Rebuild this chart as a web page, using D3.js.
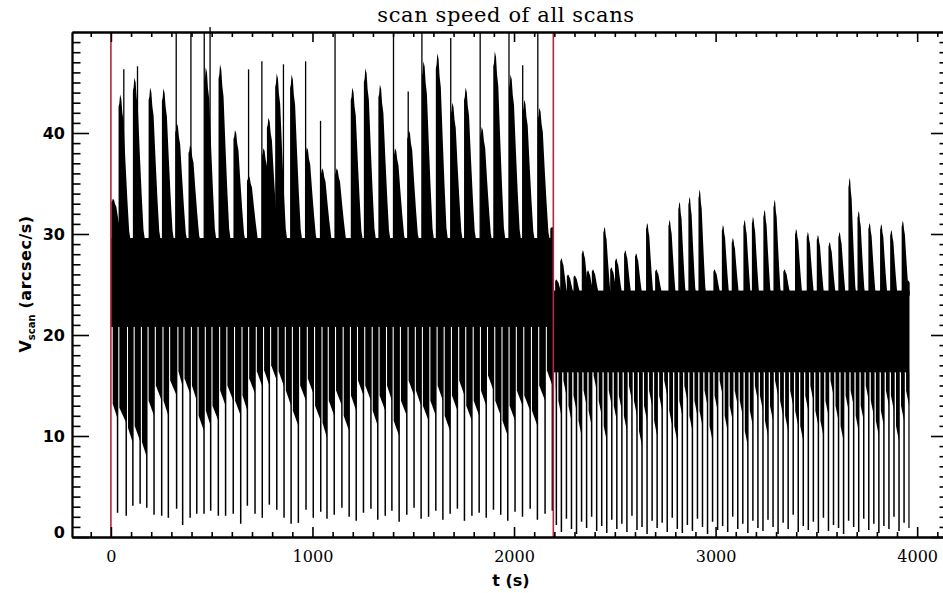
<!DOCTYPE html>
<html>
<head>
<meta charset="utf-8">
<script src="https://cdn.jsdelivr.net/npm/d3@7"></script>
<style>
  html, body { margin: 0; padding: 0; background: #fff; }
  svg { display: block; }
</style>
</head>
<body>
<div id="chart"></div>
<script>
// ---- data (t in s, V in arcsec/s) ----
// section limits (the two red markers sit on the starts)
const sectionStart = [0, 2197];
const sectionEnd = [2195, 3963];
// solid band of the fast oscillation in each section
const bandHi = [29.6, 24.4];
const bandLo = [20.8, 16.3];

// bursts above the band, section 1
const burstT1 = [2, 38, 109, 187, 253, 319, 385, 463, 534, 608,
  675, 749, 774, 815, 889, 964, 1040, 1112, 1190, 1255,
  1327, 1402, 1470, 1543, 1612, 1686, 1752, 1832, 1897, 1975,
  2043, 2118, 2180];
const burstPeak1 = [33.5, 43.8, 45.5, 44.5, 44.4, 41.0, 38.8, 46.5, 46.8, 40.3,
  35.8, 38.5, 41.5, 45.9, 45.8, 38.6, 36.5, 36.5, 44.5, 46.4,
  44.8, 38.5, 40.3, 47.1, 47.9, 43.0, 44.5, 40.6, 48.1, 45.8,
  43.3, 42.5, 30.7];
// single tall spikes, section 1
const spikeT1 = [64, 132, 324, 397, 463, 492, 683, 749, 856, 966,
  1040, 1112, 1402, 1475, 1543, 1686, 1832, 1975, 2043, 2118];
const spikeV1 = [46.3, 46.6, 50.0, 50.0, 50.0, 50.5, 46.3, 47.1, 46.8, 47.1,
  41.2, 50.0, 50.0, 44.1, 50.0, 49.4, 50.0, 50.0, 46.7, 50.0];

// bursts above the band, section 2
const burstT2 = [2204, 2229, 2262, 2295, 2336, 2361, 2386, 2443, 2477, 2501,
  2546, 2600, 2655, 2700, 2766, 2815, 2865, 2915, 2989, 3031,
  3080, 3138, 3180, 3237, 3287, 3336, 3394, 3452, 3502, 3560,
  3609, 3659, 3704, 3758, 3816, 3866, 3923, 3950];
const burstPeak2 = [25.5, 27.6, 26.0, 25.9, 28.4, 26.4, 26.5, 30.7, 26.7, 27.6,
  28.4, 28.1, 31.1, 26.5, 31.4, 33.2, 33.7, 34.4, 26.5, 30.9,
  29.6, 31.4, 31.7, 32.4, 33.4, 26.5, 30.5, 30.2, 29.9, 29.2,
  30.2, 35.6, 32.3, 31.1, 31.0, 30.4, 31.3, 25.4];

// turnarounds (dips) below the band, section 1
const dipT1 = [33, 76, 109, 145, 178, 214, 252, 285, 326, 356,
  393, 426, 462, 495, 533, 569, 607, 644, 677, 715,
  751, 786, 823, 859, 894, 930, 968, 1004, 1041, 1072,
  1108, 1146, 1182, 1217, 1253, 1290, 1324, 1361, 1394, 1430,
  1468, 1504, 1539, 1576, 1612, 1647, 1683, 1719, 1754, 1791,
  1827, 1862, 1898, 1934, 1969, 2005, 2042, 2080, 2116, 2154, 2190];
const toothLow1 = [11.7, 11.3, 9.3, 9.5, 7.9, 12.0, 13.5, 12.0, 14.0, 14.9,
  14.2, 13.5, 10.5, 11.0, 11.5, 13.0, 13.5, 12.0, 12.5, 14.2,
  14.9, 15.0, 15.5, 14.9, 13.0, 11.0, 13.5, 14.2, 11.5, 9.8,
  12.0, 13.0, 10.5, 12.5, 14.0, 13.5, 11.0, 12.5, 13.5, 10.0,
  12.0, 14.0, 13.0, 11.5, 12.0, 13.5, 10.5, 12.5, 14.0, 11.5,
  12.0, 13.0, 14.5, 12.0, 10.0, 11.5, 13.0, 12.5, 11.0, 13.5, 15.0];
const dipMin1 = [2.4, 2.1, 3.1, 3.3, 2.9, 2.2, 2.1, 1.9, 2.8, 1.2,
  1.9, 2.3, 2.3, 2.6, 2.1, 2.1, 2.3, 1.3, 3.1, 2.3,
  1.9, 3.2, 2.7, 1.9, 1.3, 1.4, 2.7, 1.9, 2.5, 1.8,
  2.2, 2.9, 2.0, 1.6, 2.4, 2.8, 1.7, 2.1, 2.6, 1.5,
  2.2, 2.9, 1.8, 2.0, 2.6, 1.7, 2.3, 2.8, 1.6, 2.1,
  2.4, 1.9, 2.7, 2.2, 1.6, 2.5, 2.0, 2.8, 1.7, 2.3, 2.6];

// turnarounds (dips) below the band, section 2
const dipT2 = [2210, 2235, 2260, 2285, 2310, 2335, 2360, 2385, 2410, 2435,
  2460, 2485, 2510, 2535, 2560, 2585, 2610, 2635, 2660, 2685,
  2710, 2735, 2760, 2785, 2810, 2835, 2860, 2885, 2910, 2935,
  2960, 2985, 3010, 3035, 3060, 3085, 3110, 3135, 3160, 3185,
  3210, 3235, 3260, 3285, 3310, 3335, 3360, 3385, 3410, 3435,
  3460, 3485, 3510, 3535, 3560, 3585, 3610, 3635, 3660, 3685,
  3710, 3735, 3760, 3785, 3810, 3835, 3860, 3885, 3910, 3935, 3960];
const toothLow2 = [13.5, 12.0, 14.0, 11.5, 12.5, 10.0, 13.0, 11.0, 14.5, 12.0,
  9.5, 13.0, 11.5, 12.5, 10.5, 13.5, 12.0, 9.0, 11.5, 13.0,
  10.0, 12.5, 14.0, 11.0, 9.5, 12.0, 13.5, 10.5, 12.0, 11.0,
  13.0, 9.5, 12.5, 14.0, 10.5, 11.5, 13.0, 12.0, 9.0, 11.0,
  13.5, 12.5, 10.0, 11.5, 14.0, 12.0, 10.5, 13.0, 11.0, 9.5,
  12.5, 13.5, 11.0, 10.0, 12.0, 14.0, 11.5, 9.5, 12.5, 13.0,
  10.5, 11.5, 13.5, 12.0, 10.0, 11.0, 13.0, 12.5, 9.5, 11.5, 13.0];
const dipMin2 = [1.2, 0.5, 1.8, 0.8, 0.3, 1.5, 0.9, 2.0, 0.6, 1.1,
  0.4, 1.7, 0.8, 1.3, 0.5, 2.1, 0.7, 1.0, 0.3, 1.6,
  0.9, 1.4, 0.5, 1.9, 0.8, 0.4, 1.2, 0.6, 1.8, 1.0,
  0.3, 1.5, 0.7, 1.1, 0.5, 2.0, 0.8, 1.3, 0.4, 1.6,
  0.9, 0.6, 1.7, 1.0, 0.3, 1.4, 0.8, 2.2, 0.5, 1.1,
  0.7, 1.5, 0.4, 1.9, 0.6, 1.2, 0.9, 0.3, 1.6, 1.0,
  0.5, 1.8, 0.7, 1.3, 0.4, 1.1, 0.8, 2.0, 0.6, 1.4, 0.9];

// axes
const xMajor = [0, 1000, 2000, 3000, 4000];
const yMajor = [0, 10, 20, 30, 40];
const markerT = [0, 2195];

// ---- layout ----
const W = 943;
const H = 593;
const plotBox = { left: 72, right: 948, top: 32, bottom: 537 };

const x = d3.scaleLinear().domain([-193, 4153]).range([plotBox.left, plotBox.right]);
const y = d3.scaleLinear().domain([0, 50]).range([plotBox.bottom, plotBox.top]);

const svg = d3.select('#chart').append('svg')
  .attr('width', W)
  .attr('height', H);

const defs = svg.append('defs');
const dataG = svg.append('g');
const polyLine = d3.line().x(d => x(d[0])).y(d => y(d[1]));

/**
 * @description outline of one burst: steep rise, ragged plateau, then decay.
 */
function burstShape(t, peak, base, w) {
  const h = peak - base;
  return [[t, base], [t, peak - 0.08 * h], [t + 0.06 * w, peak - 0.06 * h], [t + 0.12 * w, peak],
    [t + 0.22 * w, peak - 0.03 * h], [t + 0.3 * w, peak - 0.12 * h], [t + 0.4 * w, peak - 0.18 * h],
    [t + 0.55 * w, peak - 0.45 * h], [t + 0.7 * w, peak - 0.7 * h], [t + 0.85 * w, base + 0.08 * h],
    [t + w, base]];
}

/**
 * @description draw one section: band, bursts on top, teeth and dips below.
 */
function drawSection(s, bursts, dips, burstW, whiteW) {
  // keep each section's marks inside its own time span
  defs.append('clipPath').attr('id', `sec${s}`)
    .append('rect')
    .attr('x', x(sectionStart[s]))
    .attr('y', 0)
    .attr('width', x(sectionEnd[s]) - x(sectionStart[s]))
    .attr('height', H);
  const g = dataG.append('g').attr('clip-path', `url(#sec${s})`);

  // solid band
  g.append('rect')
    .attr('x', x(sectionStart[s]))
    .attr('y', y(bandHi[s]))
    .attr('width', x(sectionEnd[s]) - x(sectionStart[s]))
    .attr('height', y(bandLo[s]) - y(bandHi[s]))
    .attr('fill', '#000');

  // bursts
  g.append('g').selectAll('path')
    .data(bursts.t.map((t, i) => burstShape(t, bursts.peak[i], bandHi[s] - 0.5, burstW)))
    .join('path')
    .attr('d', d => polyLine(d) + 'Z')
    .attr('fill', '#000');

  // teeth between the white gaps, each ending in a dip line
  const teeth = dips.t.map((t, i) => {
    const prev = i === 0 ? sectionStart[s] : dips.t[i - 1];
    const lo = dips.low[i];
    return [[prev + whiteW, bandLo[s] + 0.5], [prev + whiteW, lo + 1.5], [t, lo], [t, bandLo[s] + 0.5]];
  });
  g.append('g').selectAll('path')
    .data(teeth)
    .join('path')
    .attr('d', d => polyLine(d) + 'Z')
    .attr('fill', '#000');

  g.append('g').selectAll('line')
    .data(dips.t.map((t, i) => [t, dips.min[i]]))
    .join('line')
    .attr('x1', d => x(d[0]))
    .attr('x2', d => x(d[0]))
    .attr('y1', y(bandLo[s]))
    .attr('y2', d => y(d[1]))
    .attr('stroke', '#000')
    .attr('stroke-width', 1.5);
}

drawSection(0,
  { t: burstT1, peak: burstPeak1 },
  { t: dipT1, low: toothLow1, min: dipMin1 }, 62, 9);
drawSection(1,
  { t: burstT2, peak: burstPeak2 },
  { t: dipT2, low: toothLow2, min: dipMin2 }, 40, 10);

// tall single spikes
dataG.append('g').selectAll('line')
  .data(spikeT1.map((t, i) => [t, spikeV1[i]]))
  .join('line')
  .attr('x1', d => x(d[0]))
  .attr('x2', d => x(d[0]))
  .attr('y1', y(bandHi[0]))
  .attr('y2', d => y(d[1]))
  .attr('stroke', '#000')
  .attr('stroke-width', 1.3);

// red section markers
svg.append('g').selectAll('line')
  .data(markerT)
  .join('line')
  .attr('x1', d => x(d))
  .attr('x2', d => x(d))
  .attr('y1', plotBox.bottom)
  .attr('y2', plotBox.top)
  .attr('stroke', '#b3263c')
  .attr('stroke-width', 1.6);

// ---- axes (IDL style: ticks pointing inwards, box on all sides) ----
const xMinor = d3.range(-100, 4101, 100).filter(v => !xMajor.includes(v));
const yMinor = d3.range(1, 50, 1).filter(v => !yMajor.includes(v));

function styleAxis(g) {
  g.selectAll('line').attr('stroke', '#000').attr('stroke-width', 1.6);
  g.select('.domain').attr('stroke', '#000').attr('stroke-width', 1.8);
}

const axes = [
  { axis: d3.axisBottom, scale: x, pos: `translate(0,${plotBox.bottom})`, major: xMajor, minor: xMinor, len: 10, labels: true },
  { axis: d3.axisTop, scale: x, pos: `translate(0,${plotBox.top})`, major: xMajor, minor: xMinor, len: 10, labels: false },
  { axis: d3.axisLeft, scale: y, pos: `translate(${plotBox.left},0)`, major: yMajor, minor: yMinor, len: 17, labels: true },
  { axis: d3.axisRight, scale: y, pos: `translate(${plotBox.right},0)`, major: yMajor, minor: yMinor, len: 17, labels: false },
];

axes.forEach((a) => {
  const gMinor = svg.append('g').attr('transform', a.pos)
    .call(a.axis(a.scale).tickValues(a.minor).tickSizeInner(-a.len / 2).tickSizeOuter(0).tickFormat(''));
  styleAxis(gMinor);
  const gMajor = svg.append('g').attr('transform', a.pos)
    .call(a.axis(a.scale).tickValues(a.major).tickSizeInner(-a.len).tickSizeOuter(0)
      .tickPadding(a.axis === d3.axisBottom ? 14 : 7)
      .tickFormat(a.labels ? d3.format('d') : ''));
  styleAxis(gMajor);
  gMajor.selectAll('text').attr('fill', '#000');
  if (a.axis === d3.axisBottom) {
    gMajor.selectAll('text').attr('font-family', '"DejaVu Serif", serif').attr('font-size', 16);
  }
  if (a.axis === d3.axisLeft) {
    gMajor.selectAll('text').attr('font-family', '"DejaVu Sans", sans-serif').attr('font-size', 16)
      .attr('font-weight', 'bold')
      .attr('dy', d => (d === 0 ? '0em' : '0.34em'));
  }
});

// ---- titles ----
svg.append('text')
  .attr('x', 506)
  .attr('y', 22)
  .attr('text-anchor', 'middle')
  .attr('font-family', '"DejaVu Serif", serif')
  .attr('font-size', 21)
  .attr('letter-spacing', 0.6)
  .text('scan speed of all scans');

svg.append('text')
  .attr('x', 511)
  .attr('y', 586)
  .attr('text-anchor', 'middle')
  .attr('font-family', '"DejaVu Sans", sans-serif')
  .attr('font-size', 16)
  .attr('font-weight', 'bold')
  .text('t (s)');

const yTitle = svg.append('text')
  .attr('transform', 'translate(31,284) rotate(-90)')
  .attr('text-anchor', 'middle')
  .attr('font-family', '"DejaVu Sans", sans-serif')
  .attr('font-weight', 'bold')
  .attr('font-size', 16);
yTitle.append('tspan').text('V');
yTitle.append('tspan').attr('font-size', 10).attr('dy', 4).text('scan');
yTitle.append('tspan').attr('dy', -4).attr('dx', 6).attr('letter-spacing', 0.5).text('(arcsec/s)');
</script>
</body>
</html>
